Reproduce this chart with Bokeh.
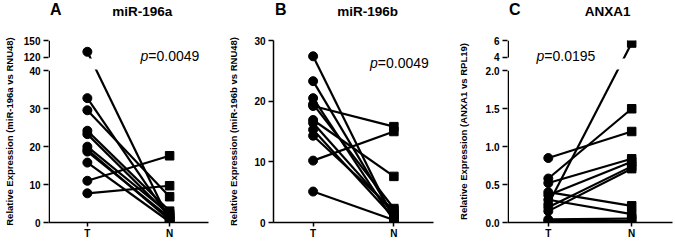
from bokeh.plotting import figure
from bokeh.models import (FactorRange, Range1d, FixedTicker, ColumnDataSource,
                          CustomJSTransform, Label)
from bokeh.transform import transform
from bokeh.layouts import row, column
from bokeh.embed import file_html
from bokeh.resources import INLINE

# ---------------- data ----------------
groups = ["T", "N"]
letters = ["A", "B", "C"]
titles = ["miR-196a", "miR-196b", "ANXA1"]
ylabels = ["Relative Expression (miR-196a vs RNU48)",
           "Relative Expression (miR-196b vs RNU48)",
           "Relative Expression (ANXA1 vs RPL19)"]
pvalues = ["=0.0049", "=0.0049", "=0.0195"]

a_tumor = [130, 32.8, 29.6, 24.2, 23.3, 20.0, 19.2, 18.7, 15.8, 11.0, 7.7]
a_normal = [0.4, 1.0, 6.8, 3.0, 1.8, 2.3, 0.7, 1.3, 0.2, 17.6, 9.7]

b_tumor = [27.4, 23.3, 20.5, 19.5, 19.2, 16.9, 16.4, 15.3, 14.3, 10.2, 5.1]
b_normal = [0.5, 1.0, 0.3, 2.3, 15.8, 7.6, 1.5, 0.8, 2.0, 15.0, 0.4]

c_tumor = [0.85, 0.58, 0.52, 0.40, 0.36, 0.30, 0.24, 0.20, 0.15, 0.04, 0.02]
c_normal = [1.20, 1.50, 0.84, 0.22, 0.80, 0.11, 5.7, 0.74, 0.71, 0.05, 0.02]

a_lower_ticks = [0, 10, 20, 30, 40]
a_lower_labels = ["0", "10", "20", "30", "40"]
a_upper_ticks = [120, 150]
a_upper_labels = ["120", "150"]

b_lower_ticks = [0, 10, 20, 30]
b_lower_labels = ["0", "10", "20", "30"]

c_lower_ticks = [0, 0.5, 1, 1.5, 2]
c_lower_labels = ["0.0", "0.5", "1.0", "1.5", "2.0"]
c_upper_ticks = [4, 6]
c_upper_labels = ["4", "6"]

# ---------------- layout / style ----------------
FONT = "Liberation Sans"
W = 225
STRIP_H = 27
H = 241 - STRIP_H
BORDER_TOP = 13
BORDER_BOTTOM = 18
FRAME_H = H - BORDER_TOP - BORDER_BOTTOM
GAP_PX = 13.5
UPPER_PX = 17.0
LOWER_PX = FRAME_H - GAP_PX - UPPER_PX


def make_break(lower_top, upper_lo, upper_hi):
    gu = GAP_PX / LOWER_PX * lower_top
    uu = UPPER_PX / LOWER_PX * lower_top

    def f(v):
        if v <= lower_top:
            return v
        return lower_top + gu + (v - upper_lo) / (upper_hi - upper_lo) * uu

    js = CustomJSTransform(
        args=dict(lo=lower_top, gu=gu, uu=uu, a=upper_lo, b=upper_hi),
        func="return x <= lo ? x : lo + gu + (x - a) / (b - a) * uu;",
        v_func="""
const out = new Array(xs.length);
for (let i = 0; i < xs.length; i++) {
  const v = xs[i];
  out[i] = v <= lo ? v : lo + gu + (v - a) / (b - a) * uu;
}
return out;
""")
    return dict(f=f, js=js, gu=gu, lo=lower_top, up_lo=upper_lo, up_hi=upper_hi)


def header(letter, title, title_x):
    s = figure(width=W, height=STRIP_H, x_range=Range1d(0, W),
               y_range=Range1d(0, STRIP_H), output_backend="svg",
               toolbar_location=None, x_axis_location=None,
               y_axis_location=None, min_border=0,
               outline_line_color=None, background_fill_color="white",
               border_fill_color="white")
    s.title.visible = False
    s.xgrid.visible = False
    s.ygrid.visible = False
    s.add_layout(Label(x=2, y=STRIP_H - 9, text=letter, text_font=FONT,
                       text_font_style="bold", text_font_size="16px",
                       text_color="black", text_baseline="middle"))
    s.add_layout(Label(x=title_x, y=STRIP_H - 11, text=title,
                       text_font=FONT, text_font_style="bold",
                       text_font_size="13.5px", text_color="black",
                       text_align="center", text_baseline="middle"))
    return s


def panel(ylabel, pval, tumor, normal, lower_ticks, lower_labels,
          upper_ticks, upper_labels, brk, bl, br, spacing, ylab_standoff,
          p_x, p_y):
    frame_w = W - bl - br
    rp = (frame_w / spacing - 2) / 2
    x_range = FactorRange(factors=groups, range_padding=rp,
                          range_padding_units="percent")
    if brk is not None:
        f, js = brk["f"], brk["js"]
        top = f(upper_ticks[-1])
    else:
        f, js = (lambda v: v), None
        top = lower_ticks[-1]

    p = figure(width=W, height=H, x_range=x_range, y_range=Range1d(0, top),
               output_backend="svg", toolbar_location=None,
               min_border_left=bl, min_border_right=br,
               min_border_top=BORDER_TOP, min_border_bottom=BORDER_BOTTOM,
               outline_line_color=None, background_fill_color="white",
               border_fill_color="white")
    p.title.visible = False
    p.xgrid.visible = False
    p.ygrid.visible = False

    src = ColumnDataSource(dict(t=tumor, n=normal,
                                gt=[groups[0]] * len(tumor),
                                gn=[groups[1]] * len(normal)))
    ty = transform("t", js) if js is not None else "t"
    ny = transform("n", js) if js is not None else "n"
    p.segment(x0="gt", y0=ty, x1="gn", y1=ny, source=src,
              line_color="black", line_width=2.2)

    ya = p.yaxis[0]
    if brk is not None:
        lo, gu = brk["lo"], brk["gu"]
        eps = 1.0 / (LOWER_PX / lo)
        # blank band of the broken axis
        p.hstrip(y0=[lo + eps], y1=[lo + gu - eps], fill_color="white",
                 fill_alpha=1.0, line_color=None)
        # axis line drawn in two pieces
        xs = -rp + 0.75 / spacing
        p.segment(x0=[xs, xs], y0=[0, f(brk["up_lo"])],
                  x1=[xs, xs], y1=[lo, f(brk["up_hi"])],
                  line_color="black", line_width=1.5)
        ya.axis_line_color = None
    else:
        ya.axis_line_color = "black"

    p.scatter(x="gt", y=ty, source=src, marker="circle", size=9,
              color="black")
    p.scatter(x="gn", y=ny, source=src, marker="square", size=8.5,
              color="black")

    ticks = list(lower_ticks)
    overrides = dict(zip(lower_ticks, lower_labels))
    for u, lab in zip(upper_ticks, upper_labels):
        tv = round(f(u), 6)
        ticks.append(tv)
        overrides[tv] = lab

    ya.ticker = FixedTicker(ticks=ticks)
    ya.major_label_overrides = overrides
    ya.axis_label = ylabel
    ya.axis_label_text_font = FONT
    ya.axis_label_text_font_style = "bold"
    ya.axis_label_text_font_size = "9.5px"
    ya.axis_label_standoff = ylab_standoff
    ya.major_label_text_font = FONT
    ya.major_label_text_font_style = "bold"
    ya.major_label_text_font_size = "10px"
    ya.major_label_standoff = 3
    ya.major_tick_out = 5
    ya.major_tick_in = 0
    ya.minor_tick_line_color = None
    ya.axis_line_width = 1.5
    ya.major_tick_line_width = 1.5
    ya.major_tick_line_color = "black"
    ya.major_label_text_color = "black"
    ya.axis_label_text_color = "black"

    xa = p.xaxis[0]
    xa.major_label_text_font = FONT
    xa.major_label_text_font_style = "bold"
    xa.major_label_text_font_size = "10px"
    xa.major_label_standoff = 1
    xa.major_tick_out = 4
    xa.major_tick_in = 0
    xa.axis_line_width = 1.5
    xa.major_tick_line_width = 1.5
    xa.axis_line_color = "black"
    xa.major_tick_line_color = "black"
    xa.major_label_text_color = "black"

    # p-value (inside the frame, screen units relative to the frame)
    p.add_layout(Label(x=p_x, y=p_y, x_units="screen", y_units="screen",
                       text="p", text_font=FONT, text_font_style="italic",
                       text_font_size="14px", text_color="black",
                       text_baseline="alphabetic"))
    p.add_layout(Label(x=p_x + 7.8, y=p_y, x_units="screen", y_units="screen",
                       text=pval, text_font=FONT, text_font_size="14px",
                       text_color="black", text_baseline="alphabetic"))
    return p


brk_a = make_break(a_lower_ticks[-1], a_upper_ticks[0], a_upper_ticks[-1])
brk_c = make_break(c_lower_ticks[-1], c_upper_ticks[0], c_upper_ticks[-1])

FRAME_BOTTOM = STRIP_H + BORDER_TOP + FRAME_H   # canvas y of the x axis

pa = panel(ylabels[0], pvalues[0], a_tumor, a_normal,
           a_lower_ticks, a_lower_labels, a_upper_ticks, a_upper_labels, brk_a,
           bl=46, br=17, spacing=83.3, ylab_standoff=6,
           p_x=92, p_y=FRAME_BOTTOM - 56)
pb = panel(ylabels[1], pvalues[1], b_tumor, b_normal,
           b_lower_ticks, b_lower_labels, [], [], None,
           bl=43, br=17, spacing=83.3, ylab_standoff=12,
           p_x=96.5, p_y=FRAME_BOTTOM - 63)
pc = panel(ylabels[2], pvalues[2], c_tumor, c_normal,
           c_lower_ticks, c_lower_labels, c_upper_ticks, c_upper_labels, brk_c,
           bl=57, br=3, spacing=83.4, ylab_standoff=14,
           p_x=29, p_y=FRAME_BOTTOM - 56)

ha = header(letters[0], titles[0], 132)
hb = header(letters[1], titles[1], 132.5)
hc = header(letters[2], titles[2], 136.7)

layout = row(column(ha, pa), column(hb, pb), column(hc, pc))
open("out.html", "w").write(file_html(layout, INLINE))
